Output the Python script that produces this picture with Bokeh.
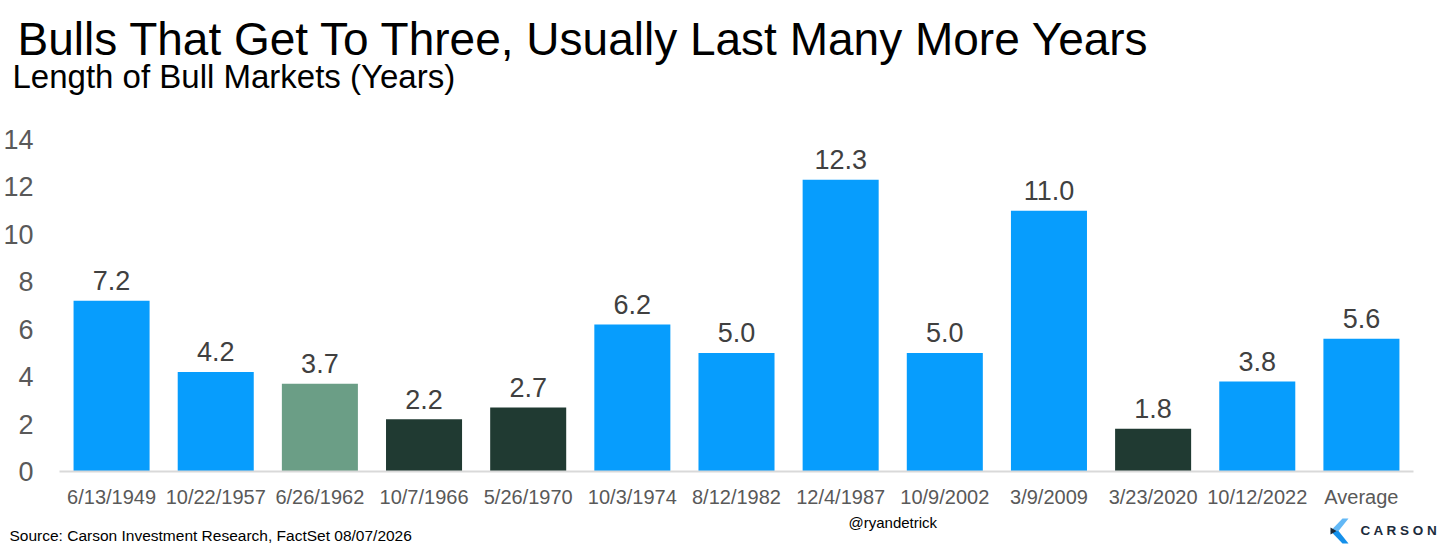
from bokeh.plotting import figure
from bokeh.layouts import column, row
from bokeh.models import ColumnDataSource, FactorRange, Range1d, FixedTicker
from bokeh.core.properties import value
from bokeh.embed import file_html
from bokeh.resources import INLINE

# ---- data ----
categories = ["6/13/1949", "10/22/1957", "6/26/1962", "10/7/1966", "5/26/1970",
              "10/3/1974", "8/12/1982", "12/4/1987", "10/9/2002", "3/9/2009",
              "3/23/2020", "10/12/2022", "Average"]
years = [7.2, 4.2, 3.7, 2.2, 2.7, 6.2, 5.0, 12.3, 5.0, 11.0, 1.8, 3.8, 5.6]
groups = ["blue", "blue", "green", "dark", "dark", "blue", "blue", "blue",
          "blue", "blue", "dark", "blue", "blue"]
y_ticks = [0, 2, 4, 6, 8, 10, 12, 14]

title_text = "Bulls That Get To Three, Usually Last Many More Years"
subtitle_text = "Length of Bull Markets (Years)"
source_text = "Source: Carson Investment Research, FactSet 08/07/2026"
handle_text = "@ryandetrick"
logo_text = "C A R S O N"

# ---- style ----
FONT = "Liberation Sans"
palette = {"blue": "#079dfd", "green": "#6b9e86", "dark": "#203a32"}
W = 1456
HEAD_H = 120
MAIN_H = 390
FOOT_H = 39


def blank(h):
    f = figure(width=W, height=h, x_range=Range1d(0, W), y_range=Range1d(h, 0),
               x_axis_type=None, y_axis_type=None, output_backend="svg",
               toolbar_location=None, title_location=None,
               min_border_left=0, min_border_right=0,
               min_border_top=0, min_border_bottom=0)
    f.outline_line_color = None
    f.grid.visible = False
    return f


def txt(f, x, y, t, size, color="#000000", style="normal", align="left"):
    f.text(x=[x], y=[y], text=[t], text_font=value(FONT), text_font_size=size,
           text_color=color, text_font_style=style, text_align=align,
           text_baseline="alphabetic")


# header
head = blank(HEAD_H)
txt(head, 17, 38, title_text, "46px")
txt(head, 12, 76, subtitle_text, "33px")

# main chart
src = ColumnDataSource(dict(
    cat=categories,
    val=years,
    color=[palette[g] for g in groups],
    lbl=[f"{v:.1f}" for v in years],
))

p = figure(width=W, height=MAIN_H,
           x_range=FactorRange(*categories), y_range=Range1d(0, 14),
           output_backend="svg", toolbar_location=None,
           min_border_left=58, min_border_right=43,
           min_border_top=19, min_border_bottom=39)
p.outline_line_color = None
p.grid.visible = False

p.vbar(x="cat", top="val", width=0.73, fill_color="color", line_color=None, source=src)
p.text(x="cat", y="val", text="lbl", source=src, text_align="center",
       text_baseline="alphabetic", y_offset=-20, text_font=value(FONT),
       text_font_size="27px", text_color="#404040")

ya = p.yaxis[0]
ya.ticker = FixedTicker(ticks=y_ticks)
ya.axis_line_color = None
ya.major_tick_line_color = None
ya.minor_tick_line_color = None
ya.major_tick_out = 0
ya.major_tick_in = 0
ya.major_label_text_font = FONT
ya.major_label_text_font_size = "27px"
ya.major_label_text_color = "#595959"
ya.major_label_standoff = 26

xa = p.xaxis[0]
xa.axis_line_color = "#d9d9d9"
xa.axis_line_width = 2
xa.major_tick_line_color = None
xa.minor_tick_line_color = None
xa.major_tick_out = 0
xa.major_tick_in = 0
xa.major_label_text_font = FONT
xa.major_label_text_font_size = "20px"
xa.major_label_text_color = "#595959"
xa.major_label_standoff = 14

# footer
foot = blank(FOOT_H)
txt(foot, 848, 12, handle_text, "15px")
txt(foot, 9, 25, source_text, "15.5px")
txt(foot, 1360, 20, logo_text, "13.5px", "#1c2b3b", "bold")
foot.patch([1342, 1348, 1338, 1330], [8, 8, 20.5, 20.5], fill_color="#62b8f6", line_color=None)
foot.patch([1330, 1338, 1348, 1342], [20.5, 20.5, 33, 33], fill_color="#1590ea", line_color=None)
foot.patch([1330, 1336, 1330], [17, 20.5, 24], fill_color="#1c2b3b", line_color=None)

layout = column(head, row(p, spacing=0), foot, spacing=0)
open("out.html", "w").write(file_html(layout, INLINE))
